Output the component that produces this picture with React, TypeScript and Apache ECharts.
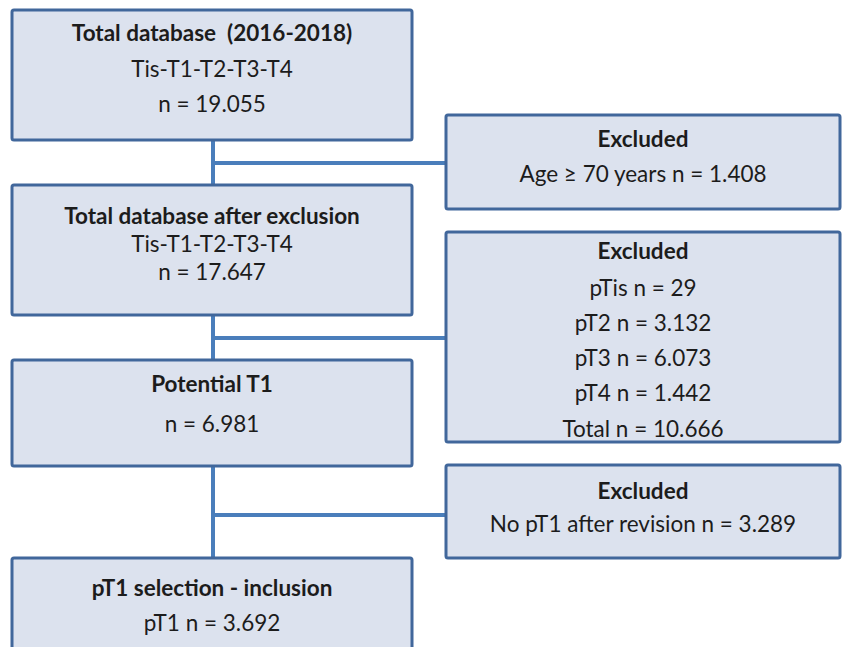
import React, { useEffect, useRef } from "react";
import * as echarts from "echarts";

// Flowchart content
const mainTitles = [
  "Total database  (2016-2018)",
  "Total database after exclusion",
  "Potential T1",
  "pT1 selection - inclusion",
];
const mainLines = [
  ["Tis-T1-T2-T3-T4", "n = 19.055"],
  ["Tis-T1-T2-T3-T4", "n = 17.647"],
  ["n = 6.981"],
  ["pT1 n = 3.692"],
];
const exclTitles = ["Excluded", "Excluded", "Excluded"];
const exclLines = [
  ["Age \u2265 70 years n = 1.408"],
  ["pTis n = 29", "pT2 n = 3.132", "pT3 n = 6.073", "pT4 n = 1.442", "Total n = 10.666"],
  ["No pT1 after revision n = 3.289"],
];

// Layout (pixels)
const mainBoxes = [
  { x: 12, y: 10, w: 400, h: 130, ty: [32, 68, 103] },
  { x: 12, y: 185, w: 400, h: 130, ty: [215, 243, 271] },
  { x: 12, y: 360, w: 400, h: 106, ty: [383, 423] },
  { x: 12, y: 558, w: 400, h: 110, ty: [587, 622] },
];
const exclBoxes = [
  { x: 446, y: 115, w: 394, h: 94, ty: [138, 173], cy: 163 },
  { x: 446, y: 232, w: 394, h: 210, ty: [250, 287, 322, 357, 392, 428], cy: 338 },
  { x: 446, y: 465, w: 394, h: 93, ty: [490, 523], cy: 515 },
];

const FILL = "#DCE2EE";
const BORDER = "#41679B";
const LINK = "#4A7EBB";
const TEXT = "#1c1c1c";
const FONT = "Lato";
const SIZE = 22.5;

export default function App() {
  const ref = useRef<HTMLDivElement>(null);
  useEffect(() => {
    if (!ref.current) return;
    const chart = echarts.init(ref.current, null, { renderer: "svg" });
    const els: any[] = [];
    const cx = 213;
    // connectors
    for (let i = 0; i < mainBoxes.length - 1; i++) {
      const a = mainBoxes[i];
      const b = mainBoxes[i + 1];
      els.push({
        type: "line",
        shape: { x1: cx, y1: a.y + a.h, x2: cx, y2: b.y },
        style: { stroke: LINK, lineWidth: 4 },
        z: 1,
      });
      const e = exclBoxes[i];
      els.push({
        type: "line",
        shape: { x1: cx, y1: e.cy, x2: e.x, y2: e.cy },
        style: { stroke: LINK, lineWidth: 4 },
        z: 1,
      });
    }
    const addBox = (b: any, title: string, lines: string[]) => {
      els.push({
        type: "rect",
        shape: { x: b.x, y: b.y, width: b.w, height: b.h, r: 2 },
        style: { fill: FILL, stroke: BORDER, lineWidth: 3 },
        z: 2,
      });
      const all = [title, ...lines];
      all.forEach((t, k) => {
        els.push({
          type: "text",
          x: b.x + b.w / 2,
          y: b.ty[k],
          style: {
            text: t,
            fill: TEXT,
            font: `${k === 0 ? "bold " : ""}${SIZE}px ${FONT}`,
            textAlign: "center",
            textVerticalAlign: "middle",
          },
          z: 3,
        });
      });
    };
    mainBoxes.forEach((b, i) => addBox(b, mainTitles[i], mainLines[i]));
    exclBoxes.forEach((b, i) => addBox(b, exclTitles[i], exclLines[i]));

    chart.setOption({
      animation: false,
      backgroundColor: "#ffffff",
      graphic: { elements: els },
    });
    return () => chart.dispose();
  }, []);
  return (
    <div
      ref={ref}
      style={{ position: "fixed", left: 0, top: 0, width: 843, height: 647 }}
    />
  );
}
